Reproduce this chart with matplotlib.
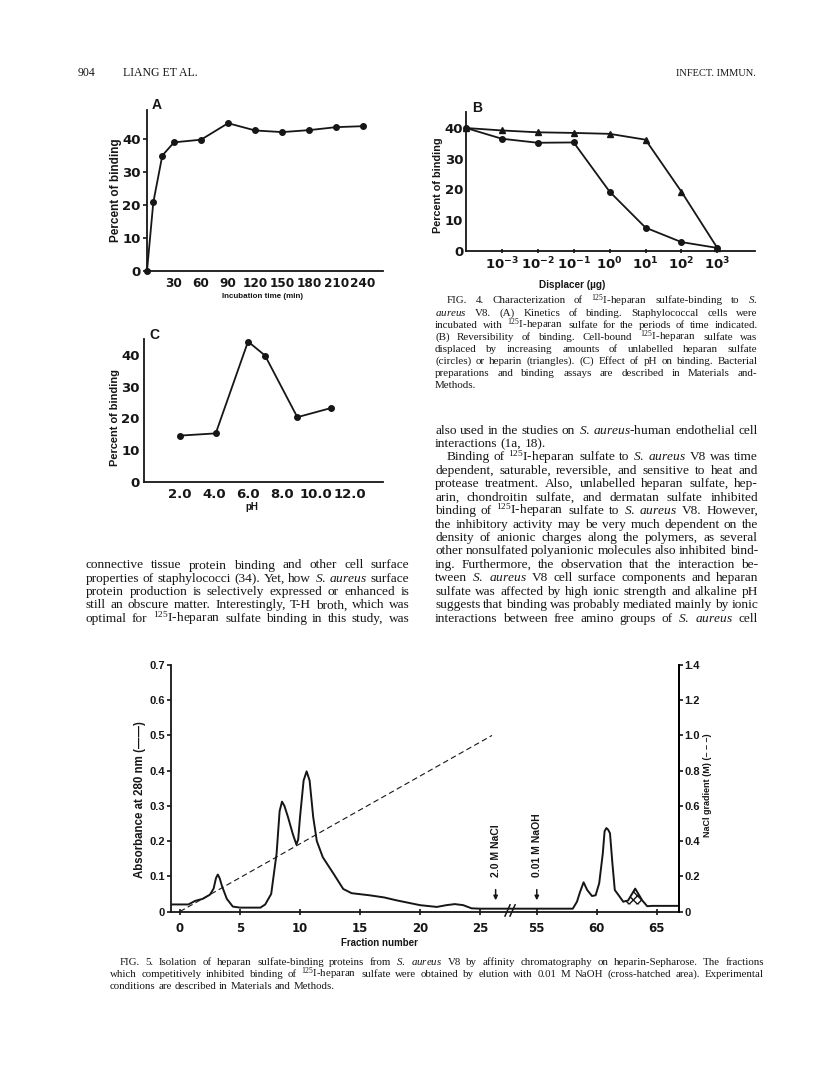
import re
import matplotlib
matplotlib.use('Agg')
import matplotlib.pyplot as plt

plt.rcParams['font.family'] = 'Liberation Sans'
plt.rcParams['mathtext.fontset'] = 'custom'
plt.rcParams['mathtext.rm'] = 'Liberation Serif'
plt.rcParams['mathtext.it'] = 'Liberation Serif:italic'
plt.rcParams['mathtext.bf'] = 'DejaVu Sans:bold'

INK = '#161616'
W, H = 816, 1086

# --- Fig. 4A: kinetics
time_min = [0, 7, 17, 30, 60, 90, 120, 150, 180, 210, 240]
binding_time = [0, 20.8, 35.0, 39.0, 39.8, 44.8, 42.6, 42.1, 42.7, 43.6, 43.9]

# --- Fig. 4B: displacement (index 0 = no displacer)
displacer_exp = [-3, -2, -1, 0, 1, 2, 3]
heparan_sulfate = [40.0, 36.5, 35.2, 35.3, 19.3, 7.6, 2.9, 1.0]
heparin = [40.0, 39.2, 38.6, 38.4, 38.1, 36.2, 19.3, 1.0]

# --- Fig. 4C: pH
ph = [2.0, 4.1, 6.0, 7.0, 8.9, 10.9]
binding_ph = [14.6, 15.3, 44.2, 39.8, 20.4, 23.3]

# --- Fig. 5: chromatography
fraction = [-0.78, 0.7, 1.25, 1.9, 2.5, 2.8, 3.0, 3.15, 3.3, 3.5, 3.9, 4.4, 5.0, 6.7,
            7.1, 7.6, 8.05, 8.3, 8.5, 8.7, 9.0, 9.4, 9.7, 9.85, 10.0, 10.3, 10.55,
            10.8, 11.1, 11.4, 11.9, 12.8, 13.6, 14.3, 15.8, 17.0, 18.0, 20.0, 21.4,
            22.2, 22.9, 23.6, 24.3, 25.0, 27.3,
            52.8, 58.0, 58.35, 58.6, 58.9, 59.2, 59.6, 59.9, 60.2, 60.5, 60.65, 60.8,
            60.95, 61.1, 61.3, 61.5, 61.8, 62.2, 62.6, 63.2, 63.8, 64.2, 64.6, 67.1]
absorbance = [0.02, 0.02, 0.03, 0.036, 0.048, 0.065, 0.095, 0.105, 0.095, 0.072, 0.036,
              0.014, 0.011, 0.011, 0.02, 0.05, 0.165, 0.285, 0.312, 0.300, 0.268, 0.22,
              0.19, 0.205, 0.268, 0.372, 0.398, 0.372, 0.268, 0.20, 0.154, 0.107, 0.064,
              0.052, 0.046, 0.04, 0.032, 0.018, 0.013, 0.018, 0.021, 0.018, 0.009,
              0.008, 0.008,
              0.008, 0.008, 0.028, 0.055, 0.083, 0.061, 0.044, 0.046, 0.08, 0.165, 0.228,
              0.237, 0.232, 0.222, 0.137, 0.061, 0.047, 0.028, 0.031, 0.065, 0.031,
              0.015, 0.016, 0.016]
gradient_fraction = [0, 26]
gradient_nacl = [0, 1.0]
hatch_range = (62.2, 63.8)

fig = plt.figure(figsize=(W / 100, H / 100), dpi=100)


def pax(l, t, r, b):
    return fig.add_axes([l / W, 1 - b / H, (r - l) / W, (b - t) / H])


def ptext(x, y, s, **kw):
    return fig.text(x / W, 1 - y / H, s, **kw)


def btext(x, y, s, **kw):
    return ptext(x, y, s, weight='bold', color=INK, **kw)


def style(ax, size=9.5, family='DejaVu Sans'):
    for s in ['top', 'right']:
        ax.spines[s].set_visible(False)
    for s in ['left', 'bottom']:
        ax.spines[s].set_linewidth(1.3)
        ax.spines[s].set_color(INK)
    ax.tick_params(colors=INK, width=1.2)
    for lab in ax.get_xticklabels() + ax.get_yticklabels():
        lab.set_fontsize(size)
        lab.set_family(family)
        lab.set_weight('bold')


# Fig 4A
axA = pax(147, 110, 383, 271)
axA.plot(time_min, binding_time, '-o', color=INK, lw=1.3, ms=4, clip_on=False)
axA.set_xlim(0, 262)
axA.set_ylim(0, 48.8)
axA.set_xticks([30, 60, 90, 120, 150, 180, 210, 240])
axA.set_yticks([0, 10, 20, 30, 40])
style(axA)
for lab in axA.get_xticklabels():
    lab.set_fontsize(8.7)
axA.tick_params(axis='x', length=0, pad=4)
axA.tick_params(axis='y', length=3, pad=1.5)
btext(152, 109, 'A', fontsize=10)
btext(116, 190, 'Percent of binding', fontsize=8.5, rotation=90, ha='center', va='center')
btext(262, 296, 'Incubation time (min)', fontsize=5.8, ha='center', va='center')

# Fig 4B
axB = pax(466, 111.7, 755, 251)
xb = list(range(len(heparin)))
axB.plot(xb, heparin, '-^', color=INK, lw=1.3, ms=5, clip_on=False)
axB.plot(xb, heparan_sulfate, '-o', color=INK, lw=1.3, ms=4, clip_on=False)
axB.set_xlim(0, 8.05)
axB.set_ylim(0, 45.3)
axB.set_xticks(range(1, len(displacer_exp) + 1))
axB.set_xticklabels([r'$\mathbf{10^{%d}}$' % e for e in displacer_exp])
axB.set_yticks([0, 10, 20, 30, 40])
style(axB)
axB.tick_params(axis='x', length=3, direction='inout', pad=2)
axB.tick_params(axis='y', length=0, pad=2)
btext(472, 112, 'B', fontsize=10)
btext(438, 185, 'Percent of binding', fontsize=7.8, rotation=90, ha='center', va='center')
btext(572, 285, 'Displacer (\u00b5g)', fontsize=7.2, ha='center', va='center')

# Fig 4C
axC = pax(144, 339, 383, 482)
axC.plot(ph, binding_ph, '-o', color=INK, lw=1.3, ms=4)
axC.set_xlim(-0.12, 13.94)
axC.set_ylim(0, 45)
axC.set_xticks([2, 4, 6, 8, 10, 12])
axC.set_xticklabels(['2.0', '4.0', '6.0', '8.0', '10.0', '12.0'])
axC.set_yticks([0, 10, 20, 30, 40])
style(axC)
axC.tick_params(axis='x', length=0, pad=4)
axC.tick_params(axis='y', length=0, pad=3)
btext(149, 339, 'C', fontsize=10)
btext(115, 418, 'Percent of binding', fontsize=7.9, rotation=90, ha='center', va='center')
btext(252, 507, 'pH', fontsize=7, ha='center', va='center')


# Fig 5 with broken x axis (fractions 27..55 removed)
def ux(f):
    return f if f < 40 else f - 25.27


ax5 = pax(170.7, 665, 679, 911.5)
u = [ux(f) for f in fraction]
ax5.plot(u, absorbance, '-', color=INK, lw=1.4)
ax5.plot([ux(f) for f in gradient_fraction], [v / 2 for v in gradient_nacl],
         '--', color=INK, lw=0.8, dashes=(5, 3))
hu = [ux(f) for f in fraction if hatch_range[0] <= f <= hatch_range[1]]
ha_ = [a for f, a in zip(fraction, absorbance) if hatch_range[0] <= f <= hatch_range[1]]
ax5.fill_between(hu, 0.02, ha_, facecolor='none', edgecolor=INK, hatch='xxxx', lw=0)
ax5.set_xlim(-0.775, 41.58)
ax5.set_ylim(0, 0.7)
xt = [0, 5, 10, 15, 20, 25, 55, 60, 65]
ax5.set_xticks([ux(f) for f in xt])
ax5.set_xticklabels([str(f) for f in xt])
ax5.set_yticks([0, 0.1, 0.2, 0.3, 0.4, 0.5, 0.6, 0.7])
ax5.set_yticklabels(['0', '0.1', '0.2', '0.3', '0.4', '0.5', '0.6', '0.7'])
style(ax5, size=8, family='Liberation Sans')
for lab in ax5.get_xticklabels():
    lab.set_fontsize(8.5)
    lab.set_family('DejaVu Sans')
ax5.tick_params(axis='x', length=5, direction='inout', pad=5)
ax5.tick_params(axis='y', length=3, pad=1)
ax5.spines['right'].set_visible(True)
ax5.spines['right'].set_linewidth(1.3)

ax5r = ax5.twinx()
ax5r.set_ylim(0, 1.4)
ax5r.set_yticks([0, 0.2, 0.4, 0.6, 0.8, 1.0, 1.2, 1.4])
ax5r.set_yticklabels(['0', '0.2', '0.4', '0.6', '0.8', '1.0', '1.2', '1.4'])
for s in ['top', 'left', 'bottom']:
    ax5r.spines[s].set_visible(False)
ax5r.spines['right'].set_linewidth(1.3)
ax5r.tick_params(axis='y', length=3, width=1.2, pad=1, colors=INK)
for lab in ax5r.get_yticklabels():
    lab.set_fontsize(8)
    lab.set_weight('bold')

# axis break marks
for x0 in (27.08, 27.5):
    ax5.plot([x0, x0 + 0.42], [-0.013, 0.019], color=INK, lw=1.1, clip_on=False)

# elution arrows
for f, label in [(26.3, '2.0 M NaCl'), (55.0, '0.01 M NaOH')]:
    ax5.annotate('', xy=(ux(f), 0.024), xytext=(ux(f), 0.07),
                 arrowprops=dict(arrowstyle='-|>', color=INK, lw=1.1, mutation_scale=6))
    ax5.text(ux(f), 0.098, label, rotation=90, ha='center', va='bottom', fontsize=7.5,
             color=INK, weight='bold')

btext(140, 800, 'Absorbance at 280 nm (\u2014\u2014)', fontsize=8.3, rotation=90,
      ha='center', va='center')
btext(707, 785, 'NaCl gradient (M) (\u2013 \u2013 \u2013)', fontsize=6.5, rotation=90,
      ha='center', va='center')
btext(379, 943, 'Fraction number', fontsize=7, ha='center', va='center')

# --- page text
ptext(78, 76, '904', fontsize=8.5, family='Liberation Serif', va='baseline', color=INK)
ptext(123, 76, 'LIANG ET AL.', fontsize=8.5, family='Liberation Serif', va='baseline', color=INK)
ptext(756, 76, 'INFECT. IMMUN.', fontsize=7.5, family='Liberation Serif', va='baseline',
      ha='right', color=INK)

fig4_caption = [
    'FIG. 4. Characterization of ^125I-heparan sulfate-binding to _S._',
    '_aureus_ V8. (A) Kinetics of binding. Staphylococcal cells were',
    'incubated with ^125I-heparan sulfate for the periods of time indicated.',
    '(B) Reversibility of binding. Cell-bound ^125I-heparan sulfate was',
    'displaced by increasing amounts of unlabelled heparan sulfate',
    '(circles) or heparin (triangles). (C) Effect of pH on binding. Bacterial',
    'preparations and binding assays are described in Materials and-',
    'Methods.',
]
left_body = [
    'connective tissue protein binding and other cell surface',
    'properties of staphylococci (34). Yet, how _S._ _aureus_ surface',
    'protein production is selectively expressed or enhanced is',
    'still an obscure matter. Interestingly, T-H broth, which was',
    'optimal for ^125I-heparan sulfate binding in this study, was',
]
right_body = [
    'also used in the studies on _S._ _aureus_-human endothelial cell',
    'interactions (1a, 18).',
    'Binding of ^125I-heparan sulfate to _S._ _aureus_ V8 was time',
    'dependent, saturable, reversible, and sensitive to heat and',
    'protease treatment. Also, unlabelled heparan sulfate, hep-',
    'arin, chondroitin sulfate, and dermatan sulfate inhibited',
    'binding of ^125I-heparan sulfate to _S._ _aureus_ V8. However,',
    'the inhibitory activity may be very much dependent on the',
    'density of anionic charges along the polymers, as several',
    'other nonsulfated polyanionic molecules also inhibited bind-',
    'ing. Furthermore, the observation that the interaction be-',
    'tween _S._ _aureus_ V8 cell surface components and heparan',
    'sulfate was affected by high ionic strength and alkaline pH',
    'suggests that binding was probably mediated mainly by ionic',
    'interactions between free amino groups of _S._ _aureus_ cell',
]
fig5_caption = [
    'FIG. 5. Isolation of heparan sulfate-binding proteins from _S._ _aureus_ V8 by affinity '
    'chromatography on heparin-Sepharose. The fractions',
    'which competitively inhibited binding of ^125I-heparan sulfate were obtained by elution '
    'with 0.01 M NaOH (cross-hatched area). Experimental',
    'conditions are described in Materials and Methods.',
]


def paragraph(lines, x0, x1, y0, dy, size, indent=(), ragged=(), ind=11.5):
    r = fig.canvas.get_renderer()
    for i, line in enumerate(lines):
        line = re.sub(r'_(.+?)_', r'$\\mathit{\1}$', line)
        line = re.sub(r'\^(\d+)', r'$^{\1}$', line)
        words = line.split()
        left = x0 + (ind if i in indent else 0)
        y = y0 + i * dy
        fs = size
        while True:
            arts = [ptext(left, y, w, fontsize=fs, family='Liberation Serif',
                          va='baseline', color=INK) for w in words]
            widths = [a.get_window_extent(r).width for a in arts]
            gap = fs * 0.25 * 100 / 72
            if i in ragged or len(words) == 1:
                break
            gap = (x1 - left - sum(widths)) / (len(words) - 1)
            if gap >= fs * 0.17 * 100 / 72:
                break
            for a in arts:
                a.remove()
            fs -= 0.1
        x = left
        for a, w in zip(arts, widths):
            a.set_x(x / W)
            x += w + gap


paragraph(fig4_caption, 435, 757.5, 303.5, 12.1, 7.9, indent=(0,), ragged=(7,))
paragraph(left_body, 86, 409.3, 568.5, 13.3, 9.6)
paragraph(right_body, 435, 758, 433.5, 13.43, 9.6, indent=(2,), ragged=(1,))
paragraph(fig5_caption, 110, 764, 965, 11.8, 7.8, indent=(0,), ragged=(2,), ind=10)

fig.savefig('out.png', dpi=100, facecolor='white')
